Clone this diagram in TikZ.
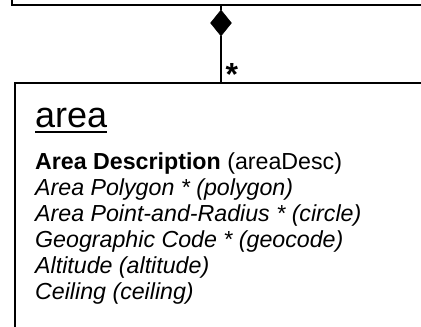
\documentclass[tikz,border=0pt]{standalone}
\usepackage{fontspec}
\setmainfont{Liberation Sans}
\usetikzlibrary{shapes.geometric}
\begin{document}
\begin{tikzpicture}[x=1pt,y=1pt,
  box/.style={draw=black, line width=2pt, inner sep=0pt},
  attr/.style={anchor=base west, inner sep=0pt, font=\fontsize{23.2}{26}\selectfont},
  conn/.style={draw=black, line width=2pt}]
\useasboundingbox (0,0) rectangle (421,327);
\clip (0,0) rectangle (421,327);
% parent class box (cut by the frame)
\node[box, anchor=south west, minimum width=440pt, minimum height=60pt] (parent) at (11,321) {};
% area class box (cut by the frame)
\node[box, anchor=north west, minimum width=440pt, minimum height=300pt] (area) at (13.5,244.5) {};
% composition diamond
\node[diamond, fill=black, draw=black, line width=0.5pt, inner sep=0pt, minimum width=21pt, minimum height=26pt] (dia) at (221,304) {};
\draw[conn] (dia.north) -- (dia.north |- parent.south);
\draw[conn] (dia.south) -- (dia.south |- area.north);
\node[anchor=base west, inner sep=0pt, font=\fontsize{32}{34}\selectfont\bfseries] (mult) at (225.5,241.5) {*};
% title
\node[anchor=base west, inner sep=0pt, font=\fontsize{36}{40}\selectfont] (title) at (35,199.5) {area};
\draw[line width=2pt] ([yshift=-5pt]title.base west) -- ([yshift=-5pt]title.base east);
% attributes
\node[attr] (a1) at (35,157) {\textbf{Area Description} (areaDesc)};
\node[attr] (a2) at (35,131) {\itshape Area Polygon * (polygon)};
\node[attr] (a3) at (35,105) {\itshape Area Point-and-Radius * (circle)};
\node[attr] (a4) at (35,79) {\itshape Geographic Code * (geocode)};
\node[attr] (a5) at (35,53) {\itshape Altitude (altitude)};
\node[attr] (a6) at (35,27) {\itshape Ceiling (ceiling)};
\end{tikzpicture}
\end{document}
